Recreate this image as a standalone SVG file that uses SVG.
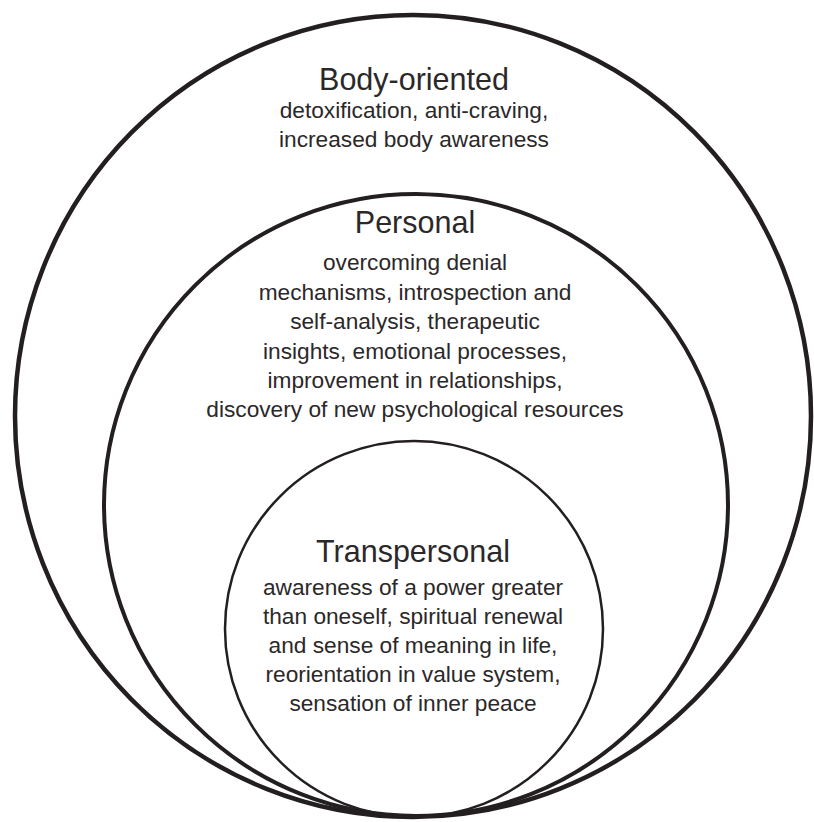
<svg xmlns="http://www.w3.org/2000/svg" width="814" height="822" viewBox="0 0 814 822">
<style>
.ring{fill:none;stroke:#231f20}
.h{font-family:"Liberation Sans",Arial,sans-serif;font-size:30.5px;fill:#2b2829;text-anchor:middle}
.t{font-family:"Liberation Sans",Arial,sans-serif;font-size:22.7px;fill:#2b2829;text-anchor:middle}
</style>
<rect width="814" height="822" fill="#fff"/>
<g id="body-oriented">
<ellipse class="ring" cx="413" cy="416" rx="398" ry="401" stroke-width="4.5"/>
<text class="h" x="414" y="90">Body-oriented</text>
<text class="t" x="414" y="118">detoxification, anti-craving,</text>
<text class="t" x="414" y="147">increased body awareness</text>
</g>
<g id="personal">
<ellipse class="ring" cx="416" cy="505" rx="312" ry="311" stroke-width="4"/>
<text class="h" x="415" y="233">Personal</text>
<text class="t" x="415" y="270">overcoming denial</text>
<text class="t" x="415" y="299.5">mechanisms, introspection and</text>
<text class="t" x="415" y="329">self-analysis, therapeutic</text>
<text class="t" x="415" y="358.5">insights, emotional processes,</text>
<text class="t" x="415" y="388">improvement in relationships,</text>
<text class="t" x="415" y="417">discovery of new psychological resources</text>
</g>
<g id="transpersonal">
<ellipse class="ring" cx="414" cy="629" rx="189" ry="188" stroke-width="2.5"/>
<text class="h" x="413" y="562">Transpersonal</text>
<text class="t" x="413" y="595">awareness of a power greater</text>
<text class="t" x="413" y="624">than oneself, spiritual renewal</text>
<text class="t" x="413" y="653">and sense of meaning in life,</text>
<text class="t" x="413" y="682">reorientation in value system,</text>
<text class="t" x="413" y="711">sensation of inner peace</text>
</g>
<g id="connectors"/>
</svg>
